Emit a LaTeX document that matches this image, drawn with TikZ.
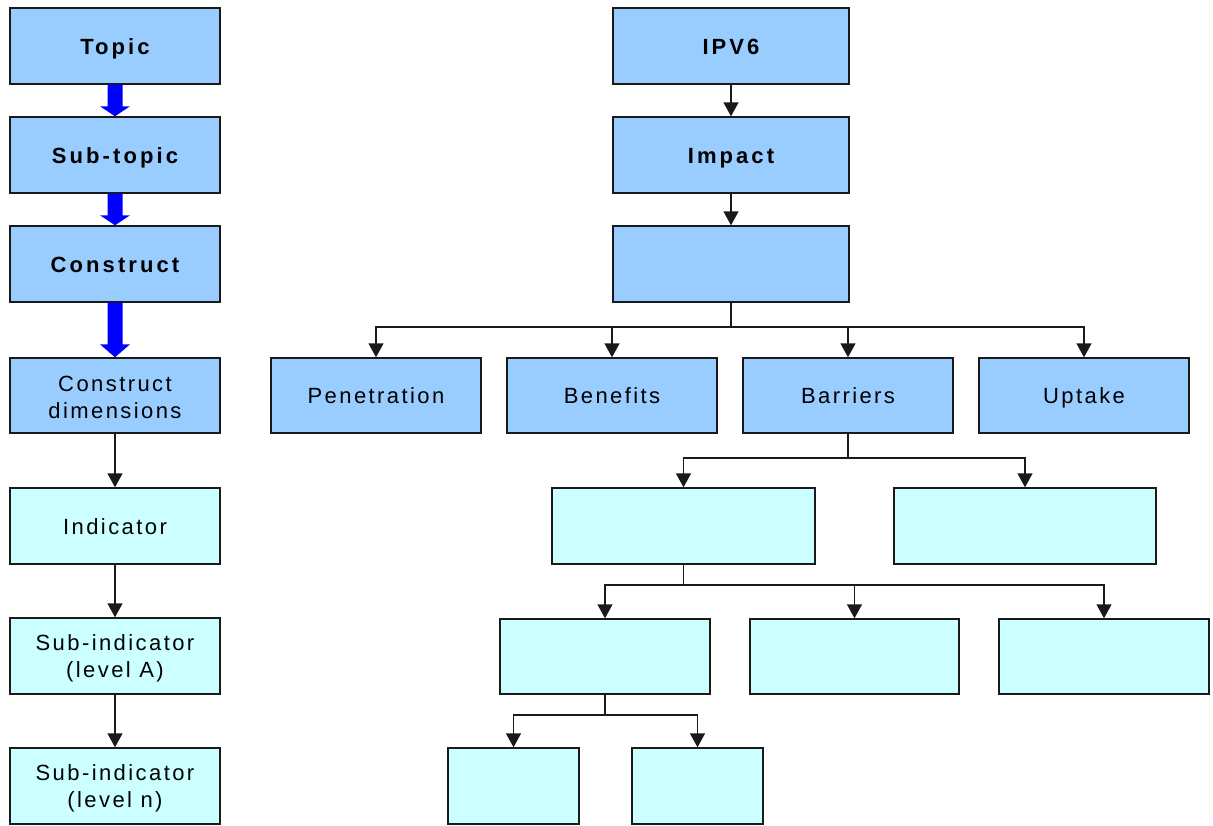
\documentclass[tikz,border=0pt]{standalone}
\usepackage{fontspec}
\setmainfont[LetterSpace=11]{Liberation Sans}
\usetikzlibrary{arrows.meta}
\definecolor{boxblue}{HTML}{99CCFF}
\definecolor{boxcyan}{HTML}{CCFFFF}
\definecolor{edge}{HTML}{1A1A1A}
\newcommand\fatarrow[3]{%
  \fill[blue] ([xshift=-7.5pt]#1.south) -- ([xshift=7.5pt]#1.south)
    -- ([xshift=7.5pt,yshift=#3]#2.north) -- ([xshift=15pt,yshift=#3]#2.north)
    -- (#2.north) -- ([xshift=-15pt,yshift=#3]#2.north)
    -- ([xshift=-7.5pt,yshift=#3]#2.north) -- cycle;}
\newcommand\twoline[2]{\raisebox{-2pt}[\height][\depth]{\parbox{200pt}{\centering #1\\#2}}}
\begin{document}
\begin{tikzpicture}[x=1pt,y=-1pt,
  base/.style={draw=edge, line width=1.4pt, inner sep=0pt, align=center,
    font=\fontsize{22}{27}\selectfont, text=black},
  one/.style={text height=16pt, text depth=0pt},
  bluebox/.style={base, fill=boxblue},
  cyanbox/.style={base, fill=boxcyan},
  arr/.style={draw=edge, line width=1.4pt, -{Triangle[width=15pt,length=14pt]}},
  ln/.style={draw=edge, line width=1.4pt}]
\useasboundingbox (0,0) rectangle (1213,825);
% left column
\node[bluebox, one, minimum width=210pt, minimum height=76pt] (topic) at (115,46) {\bfseries\addfontfeature{LetterSpace=14}Topic};
\node[bluebox, one, minimum width=210pt, minimum height=76pt] (subtopic) at (115,155) {\bfseries\addfontfeature{LetterSpace=14}Sub-topic};
\node[bluebox, one, minimum width=210pt, minimum height=76pt] (construct) at (115,264) {\bfseries\addfontfeature{LetterSpace=14}Construct};
\node[bluebox, minimum width=210pt, minimum height=75pt] (cdim) at (115,395.5) {\twoline{Construct}{dimensions}};
\node[cyanbox, one, minimum width=210pt, minimum height=76pt] (ind) at (115,526) {Indicator};
\node[cyanbox, minimum width=210pt, minimum height=76pt] (suba) at (115,656) {\twoline{Sub-indicator}{(level A)}};
\node[cyanbox, minimum width=210pt, minimum height=76pt] (subn) at (115,786) {\twoline{Sub-indicator}{(level n)}};
\fatarrow{topic}{subtopic}{10pt}
\fatarrow{subtopic}{construct}{10pt}
\fatarrow{construct}{cdim}{13pt}
\draw[arr] (cdim) -- (ind);
\draw[arr] (ind) -- (suba);
\draw[arr] (suba) -- (subn);
% right tree
\node[bluebox, one, minimum width=236pt, minimum height=76pt] (ipv6) at (731,46) {\bfseries\addfontfeature{LetterSpace=14}IPV6};
\node[bluebox, one, minimum width=236pt, minimum height=76pt] (impact) at (731,155) {\bfseries\addfontfeature{LetterSpace=14}Impact};
\node[bluebox, minimum width=236pt, minimum height=76pt] (blank1) at (731,264) {};
\draw[arr] (ipv6) -- (impact);
\draw[arr] (impact) -- (blank1);
\node[bluebox, one, minimum width=210pt, minimum height=75pt] (pen) at (376,395.5) {Penetration};
\node[bluebox, one, minimum width=210pt, minimum height=75pt] (ben) at (612,395.5) {Benefits};
\node[bluebox, one, minimum width=210pt, minimum height=75pt] (bar) at (848,395.5) {Barriers};
\node[bluebox, one, minimum width=210pt, minimum height=75pt] (upt) at (1084,395.5) {Uptake};
\coordinate (j1) at (731,327);
\draw[ln] (blank1.south) -- (j1);
\foreach \t in {pen,ben,bar,upt} \draw[arr] (j1) -| (\t.north);
\node[cyanbox, minimum width=263pt, minimum height=76pt] (r3l) at (683.5,526) {};
\node[cyanbox, minimum width=262pt, minimum height=76pt] (r3r) at (1025,526) {};
\coordinate (j2) at (848,458);
\draw[ln] (bar.south) -- (j2);
\foreach \t in {r3l,r3r} \draw[arr] (j2) -| (\t.north);
\node[cyanbox, minimum width=210pt, minimum height=75pt] (r4a) at (605,656.5) {};
\node[cyanbox, minimum width=209pt, minimum height=75pt] (r4b) at (854.5,656.5) {};
\node[cyanbox, minimum width=210pt, minimum height=75pt] (r4c) at (1104,656.5) {};
\coordinate (j3) at (683.5,585);
\draw[ln] (r3l.south) -- (j3);
\foreach \t in {r4a,r4b,r4c} \draw[arr] (j3) -| (\t.north);
\node[cyanbox, minimum width=131pt, minimum height=76pt] (r5a) at (513.5,786) {};
\node[cyanbox, minimum width=131pt, minimum height=76pt] (r5b) at (697.5,786) {};
\coordinate (j4) at (605,715);
\draw[ln] (r4a.south) -- (j4);
\foreach \t in {r5a,r5b} \draw[arr] (j4) -| (\t.north);
\end{tikzpicture}
\end{document}
